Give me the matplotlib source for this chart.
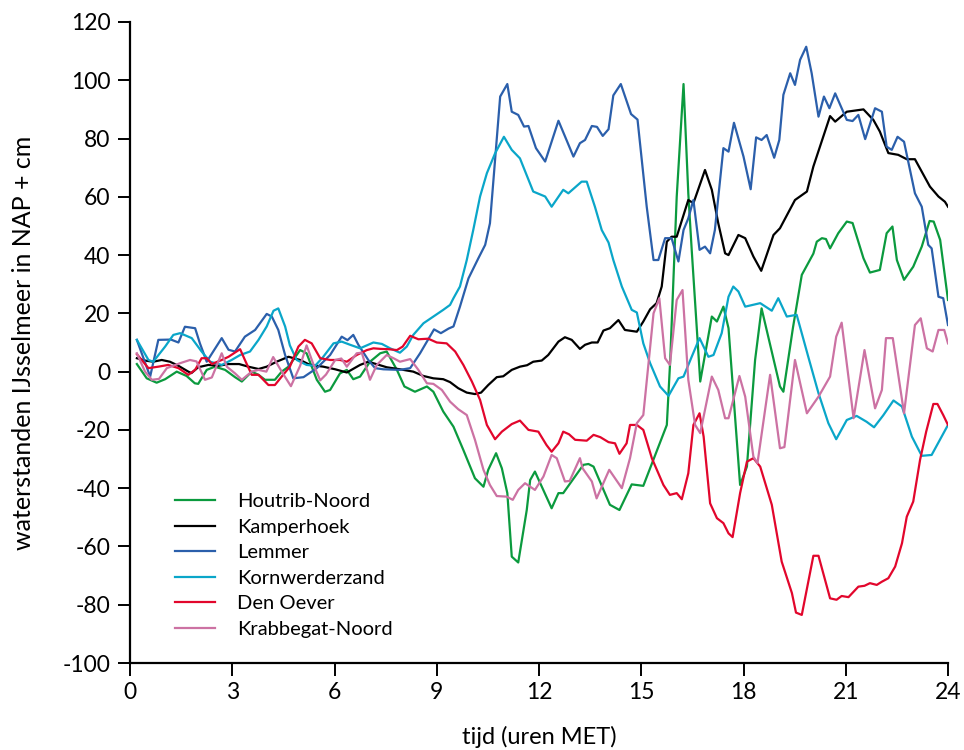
import numpy as np
import matplotlib
matplotlib.use('Agg')
import matplotlib.pyplot as plt

plt.rcParams['font.family'] = ['Lato', 'DejaVu Sans']
plt.rcParams['axes.unicode_minus'] = False

# Houtrib-Noord
t_hout = [0.2, 0.49, 0.78, 1.03, 1.37, 1.66, 1.9, 2.0, 2.25, 2.49, 2.79, 3.08, 3.28, 3.57, 3.77, 3.96, 4.25, 4.45,
          4.65, 4.99, 5.18, 5.48, 5.72, 5.87, 6.16, 6.36, 6.55, 6.75, 7.04, 7.34, 7.53, 7.83, 8.05, 8.36, 8.71, 8.9,
          9.19, 9.49, 9.78, 10.12, 10.37, 10.51, 10.74, 10.91, 11.07, 11.2, 11.39, 11.64, 11.74, 11.88, 12.37, 12.57,
          12.71, 13.3, 13.45, 13.6, 14.08, 14.36, 14.72, 15.06, 15.75, 15.85, 16.04, 16.24, 16.38, 16.48, 16.73,
          17.07, 17.22, 17.41, 17.56, 17.9, 18.1, 18.34, 18.53, 19.07, 19.17, 19.45, 19.71, 20.05, 20.15, 20.3,
          20.42, 20.54, 20.78, 21.03, 21.2, 21.52, 21.71, 22.0, 22.2, 22.37, 22.5, 22.71, 22.98, 23.23, 23.46,
          23.58, 23.77, 24.0]
v_hout = [2.6, -2.3, -3.8, -2.6, 0, -1.5, -4, -4.2, 0.6, 1.7, 0.6, -1.9, -3.4, 0, -1.1, -2.8, -2.8, 0,
          1.7, 7.4, 6.3, -2.8, -6.9, -6.3, -0.6, 0.6, -2.6, -1.7, 3.4, 6.3, 6.9, 0.6, -5.1, -6.9, -5.1, -6.9,
          -13.7, -18.9, -26.9, -36.6, -39.5, -33.7, -28, -33.2, -41.7, -63.5, -65.5, -47.5, -37.2, -34.3, -46.9, -41.7,
          -41.7, -32, -31.7, -32.6, -45.7, -47.5, -38.7, -39.2, -18.3, 4, 60, 98.7, 61.2, 41.8, -3.4,
          18.9, 17.2, 22.3, 14.9, -38.9, -32.6, 4, 21.7, -5.1, -6.9, 15, 33.2, 40.5, 44.6, 45.8,
          45.5, 42.3, 47.5, 51.5, 51, 38.9, 34, 34.9, 47.5, 49.8, 38.3, 31.5, 36, 42.9, 51.7,
          51.5, 45.2, 24.6]

# Kamperhoek
t_kamp = [0.2, 0.44, 0.68, 0.93, 1.17, 1.42, 1.71, 1.8, 2.0, 2.3, 2.59, 2.89, 3.2, 3.47, 3.77, 4.01, 4.3, 4.65,
          4.99, 5.28, 5.67, 6.02, 6.36, 6.75, 6.99, 7.25, 7.53, 7.92, 8.31, 8.61, 8.9, 9.19, 9.39, 9.63, 9.88,
          10.12, 10.3, 10.51, 10.76, 10.95, 11.2, 11.44, 11.65, 11.83, 12.08, 12.27, 12.57, 12.76, 12.96, 13.2,
          13.35, 13.55, 13.72, 13.89, 14.08, 14.33, 14.52, 14.87, 15.06, 15.26, 15.45, 15.6, 15.75, 15.89, 16.04,
          16.38, 16.53, 16.87, 17.07, 17.26, 17.46, 17.56, 17.85, 18.05, 18.29, 18.52, 18.88, 19.07, 19.51, 19.86,
          20.05, 20.54, 20.69, 21.03, 21.52, 21.81, 22.0, 22.25, 22.54, 22.79, 23.03, 23.47, 23.72, 23.91, 24.0]
v_kamp = [4.6, 3.8, 3.4, 4, 3.4, 2, 0, -0.5, 1.5, 2.3, 2, 2.6, 2.6, 1.7, 0.9, 1.7, 3.4, 5.1,
          4, 2.3, 1.7, 0.8, -0.3, 2.3, 3.4, 2.5, 1.5, 0.8, 0, -1.5, -2.3, -2.6, -3.6, -5.7, -7.2,
          -7.7, -7.2, -4.6, -1.9, -1.6, 0.6, 1.7, 2.2, 3.4, 3.8, 5.7, 10.3, 11.8, 10.9, 7.8,
          9.2, 10, 10, 14.1, 14.9, 17.7, 14.3, 13.7, 17.2, 21.4, 23.5, 29.2, 44.6, 46.3, 46.3,
          58.9, 57.8, 69.2, 62.4, 50.9, 40.6, 40, 46.9, 45.8, 39.5, 34.6, 46.9, 49.2, 58.9, 61.8,
          70.4, 87.7, 85.8, 89.2, 90, 86.4, 82.4, 75, 74.4, 72.9, 72.9, 63.5, 60.1, 58.3, 56.6]

# Lemmer
t_lem = [0.2, 0.59, 0.83, 1.2, 1.42, 1.61, 1.91, 2.05, 2.25, 2.69, 2.89, 3.08, 3.37, 3.67, 4.01, 4.16, 4.35,
         4.55, 4.79, 5.09, 5.48, 5.87, 6.21, 6.38, 6.55, 6.7, 6.99, 7.19, 7.43, 7.92, 8.22, 8.51, 8.92, 9.12,
         9.35, 9.49, 9.68, 9.93, 10.22, 10.42, 10.56, 10.71, 10.86, 11.07, 11.2, 11.39, 11.56, 11.69, 11.91,
         12.18, 12.57, 13.01, 13.2, 13.35, 13.55, 13.7, 13.87, 14.04, 14.18, 14.4, 14.7, 14.89, 15.16, 15.36,
         15.5, 15.7, 15.89, 16.09, 16.24, 16.38, 16.53, 16.71, 16.87, 17.02, 17.16, 17.41, 17.56, 17.72, 18.0,
         18.21, 18.37, 18.53, 18.68, 18.9, 19.05, 19.17, 19.37, 19.51, 19.66, 19.84, 20.0, 20.2, 20.36, 20.52,
         20.69, 21.03, 21.2, 21.37, 21.57, 21.86, 22.06, 22.2, 22.35, 22.52, 22.71, 23.03, 23.23, 23.42, 23.52,
         23.72, 23.86, 24.0]
v_lem = [10.9, -1.7, 10.9, 11, 10, 15.4, 14.9, 9.7, 3.4, 11.5, 7.5, 6.9, 12, 14.3, 19.8, 18.9, 14.3,
         5.7, -2.3, -1.9, 1.2, 5.7, 12, 10.8, 12.6, 9.2, 4, 1.2, 0.8, 0.6, 1.2, 6.3, 14.5, 13.2,
         14.8, 15.5, 22.3, 32, 38.9, 43.5, 50.9, 72.6, 94.4, 98.7, 89.2, 88.1, 84.1, 84.3, 76.7,
         72.1, 86.1, 73.8, 78.4, 79.5, 84.3, 84, 80.9, 83.2, 94.8, 98.7, 88.4, 86.5, 56.6, 38.3,
         38.3, 45.8, 45.8, 37.8, 48.6, 52.6, 58.9, 41.8, 42.9, 40.6, 48.6, 76.7, 75.5, 85.4, 73.8,
         62.6, 80.4, 79.5, 81.2, 73.4, 79.5, 95, 102.4, 98.4, 107, 111.5, 102.4, 87.5, 94.4, 90.4,
         95.5, 86.4, 86, 88.1, 79.8, 90.4, 89.2, 77.2, 76.1, 80.6, 78.9, 61.2, 56.6, 43.5, 42.3,
         25.7, 25.2, 16]

# Kornwerderzand
t_korn = [0.2, 0.54, 0.68, 1.03, 1.27, 1.47, 1.81, 2.1, 2.35, 2.69, 2.98, 3.23, 3.52, 3.77, 4.01, 4.21, 4.35,
          4.55, 4.69, 4.89, 5.18, 5.43, 5.67, 5.97, 6.21, 6.46, 6.75, 7.14, 7.39, 7.63, 7.92, 8.12, 8.31, 8.61,
          8.9, 9.19, 9.39, 9.49, 9.68, 9.88, 10.07, 10.27, 10.47, 10.71, 10.97, 11.2, 11.44, 11.83, 12.18, 12.37,
          12.71, 12.86, 13.25, 13.4, 13.64, 13.84, 14.04, 14.18, 14.43, 14.72, 14.87, 15.06, 15.26, 15.55, 15.8,
          16.09, 16.24, 16.48, 16.71, 16.97, 17.12, 17.36, 17.56, 17.7, 17.85, 18.05, 18.49, 18.83, 19.02, 19.27,
          19.56, 19.9, 20.2, 20.49, 20.72, 21.03, 21.32, 21.61, 21.83, 22.1, 22.4, 22.65, 22.94, 23.23, 23.52, 24.0]
v_korn = [10.9, 4, 3.4, 8.6, 12.6, 13.2, 11.5, 6.9, 3.4, 2.3, 4, 5.7, 6.9, 10.9, 15.5, 20.9, 21.7,
          15.5, 9, 4, 2.3, 2, 5.1, 9.7, 10.3, 9.2, 8, 10, 9.5, 8, 6.5, 8.6, 12.6, 16.6,
          18.9, 21.2, 22.9, 25.2, 29.2, 38.3, 48.6, 60.1, 68.1, 74.9, 80.6, 76.1, 73.2, 61.8, 60.1, 56.6,
          62.4, 61.2, 65.2, 65.2, 56.6, 48.6, 44.3, 38.3, 29.2, 21.2, 20.3, 9.7, 2.9, -5.1, -8.3,
          -2.3, -1.7, 5.1, 11.5, 5.1, 5.7, 13.2, 25.7, 29.2, 27.5, 22.3, 23.5, 20.9, 25.2, 18.9,
          19.5, 5.1, -7.4, -17.7, -23.2, -16.6, -15.2, -17.2, -19.1, -15, -9.9, -12, -22.3, -28.9, -28.6, -18.3]

# Den Oever
t_den = [0.2, 0.54, 0.83, 1.12, 1.42, 1.71, 1.91, 2.1, 2.25, 2.4, 2.69, 2.89, 3.23, 3.37, 3.57, 3.77, 4.06,
         4.25, 4.45, 4.69, 4.94, 5.13, 5.33, 5.58, 5.87, 6.16, 6.36, 6.65, 6.95, 7.14, 7.35, 7.58, 7.83, 8.0,
         8.22, 8.46, 8.75, 9.0, 9.29, 9.54, 9.78, 10.03, 10.27, 10.47, 10.71, 10.91, 11.2, 11.44, 11.69, 11.98,
         12.22, 12.37, 12.57, 12.71, 12.88, 13.06, 13.4, 13.6, 13.8, 14.04, 14.23, 14.36, 14.57, 14.67, 14.87,
         15.06, 15.31, 15.65, 15.84, 16.04, 16.19, 16.38, 16.53, 16.71, 16.83, 17.02, 17.22, 17.41, 17.56, 17.68,
         17.9, 18.1, 18.29, 18.49, 18.83, 19.12, 19.42, 19.54, 19.71, 20.05, 20.2, 20.54, 20.73, 20.88, 21.08,
         21.37, 21.55, 21.71, 21.91, 22.06, 22.25, 22.45, 22.65, 22.79, 22.98, 23.18, 23.36, 23.57, 23.69, 23.86,
         24.0]
v_den = [6, 1.2, 1.7, 2.3, 1.2, -1.1, 0.6, 4.6, 4.6, 2.6, 4, 5.1, 7.7, 4, -1.1, -1.1, -4.6,
         -4.6, -1.7, 1.7, 8.6, 10.9, 9.7, 4.6, 4, 4, 3.4, 5.7, 7.4, 8, 7.8, 7.7, 7.4, 8.6,
         12.3, 11.1, 11.3, 10, 9.7, 6.9, 2.3, -3.4, -9.7, -18.3, -23.2, -20.6, -18, -16.8, -20, -20.6,
         -25.2, -27.5, -24.6, -20.6, -21.5, -23.4, -23.7, -21.7, -22.5, -24.2, -24.6, -28.2, -24.6, -18.3, -18.3,
         -20, -29.7, -38.9, -42.3, -41.7, -43.8, -34.9, -18.3, -14.3, -22.3, -45.2, -50.3, -52, -55.5, -56.8,
         -41.7, -30.9, -29.7, -32.6, -45.7, -65.2, -76, -82.7, -83.5, -63.2, -63.2, -77.8, -78.3, -77, -77.4,
         -73.8, -73.5, -72.6, -73.2, -72.1, -70.9, -66.9, -58.9, -49.8, -44.6, -30.3, -20.6, -11.1, -11.1, -14.9,
         -18.3]

# Krabbegat-Noord
t_krab = [0.2, 0.44, 0.64, 0.85, 1.08, 1.47, 1.76, 1.95, 2.2, 2.4, 2.69, 2.84, 3.08, 3.28, 3.57, 3.77, 4.0,
          4.2, 4.45, 4.72, 4.99, 5.18, 5.38, 5.58, 5.75, 6.02, 6.2, 6.36, 6.65, 6.8, 7.04, 7.24, 7.53, 7.73,
          7.92, 8.22, 8.46, 8.71, 8.9, 9.15, 9.39, 9.63, 9.88, 10.12, 10.37, 10.56, 10.76, 11.05, 11.23, 11.39,
          11.59, 11.88, 12.13, 12.37, 12.52, 12.76, 12.9, 13.2, 13.28, 13.55, 13.69, 14.06, 14.43, 14.67, 14.87,
          15.06, 15.36, 15.53, 15.7, 15.84, 16.04, 16.21, 16.38, 16.58, 16.73, 17.07, 17.26, 17.46, 17.56, 17.88,
          18.05, 18.29, 18.41, 18.78, 19.07, 19.2, 19.51, 19.86, 20.2, 20.54, 20.72, 20.88, 21.23, 21.55, 21.86,
          22.06, 22.18, 22.38, 22.71, 23.03, 23.2, 23.38, 23.55, 23.72, 23.89, 24.0]
v_krab = [6.3, 0, -2.8, -2.5, 1.2, 2.9, 4, 3.5, -2.8, -2, 6.3, 1.7, -0.6, -2.8, 0, 0.6, 0,
          5, 0, -5, 2, 9, 2.5, -3, -1, 4, 4.5, 1.7, 6.3, 6.5, -2.8, 2.3, 5.7, 4.6,
          3.4, 4.3, 0.6, -4, -4.2, -6.3, -10.3, -12.9, -14.9, -23.4, -33.7, -38.9, -42.7, -42.9, -44, -40.6,
          -38.3, -40.6, -36, -28.6, -29.7, -37.7, -37.5, -29.7, -33.2, -37.7, -43.5, -33.7, -40, -29.7, -17.7,
          -14.9, 20, 25.2, 4.6, 2.3, 24.6, 28, -2.8, -18.3, -21.1, -1.7, -6.3, -16, -16, -1.5,
          -8.6, -29.2, -31.4, -1.1, -26.3, -25.9, 4, -14.3, -8.6, -1.7, 12, 16.8, -16, 7.4, -12.6,
          -6.3, 11.5, 11.5, -14.3, 16, 18.3, 8, 6.9, 14.3, 14.3, 9.7]

series = [
    ('Houtrib-Noord', t_hout, v_hout, '#0b9a3e'),
    ('Kamperhoek', t_kamp, v_kamp, '#000000'),
    ('Lemmer', t_lem, v_lem, '#2b5fab'),
    ('Kornwerderzand', t_korn, v_korn, '#0aa6c9'),
    ('Den Oever', t_den, v_den, '#e2062c'),
    ('Krabbegat-Noord', t_krab, v_krab, '#cc72a3'),
]

fig = plt.figure(figsize=(9.64, 7.5), dpi=100)
ax = fig.add_axes([0.1349, 0.116, 0.8485, 0.8547])

for name, t, v, c in series:
    ax.plot(t, v, color=c, lw=1.6, label=name)

ax.set_xlim(0, 24)
ax.set_ylim(-100, 120)
ax.set_xticks(np.arange(0, 25, 3))
ax.set_yticks(np.arange(-100, 121, 20))
ax.spines['top'].set_visible(False)
ax.spines['right'].set_visible(False)
ax.spines['left'].set_linewidth(1.6)
ax.spines['bottom'].set_linewidth(1.6)
ax.tick_params(direction='out', length=9, width=1.4, labelsize=16.5, pad=5)

ax.set_xlabel('tijd (uren MET)', fontsize=17, labelpad=16)
ax.set_ylabel('waterstanden IJsselmeer in NAP + cm', fontsize=18, labelpad=20)

ax.legend(loc='upper left', bbox_to_anchor=(0.055, 0.265), frameon=False, fontsize=14.5,
          handlelength=2.0, labelspacing=0.42, handletextpad=1.1, borderpad=0, borderaxespad=0)

fig.savefig('out.png', dpi=100)
